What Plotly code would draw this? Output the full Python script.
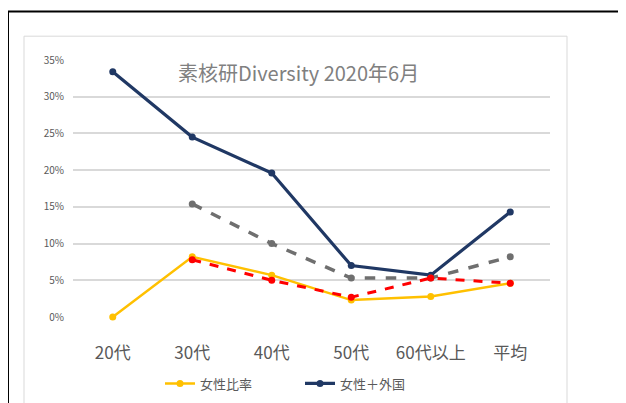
import plotly.graph_objects as go

categories = ["20代", "30代", "40代", "50代", "60代以上", "平均"]
female_ratio = [0.0, 8.2, 5.7, 2.3, 2.8, 4.6]
female_foreign = [33.4, 24.5, 19.6, 7.0, 5.7, 14.3]
gray_series = [None, 15.4, 10.0, 5.3, 5.3, 8.2]
red_series = [None, 7.8, 5.0, 2.7, 5.3, 4.6]
ytick_vals = [0, 5, 10, 15, 20, 25, 30, 35]
ytick_text = ["0%", "5%", "10%", "15%", "20%", "25%", "30%", "35%"]

W, H = 626, 403
OFF = 8  # page body margin offset
L, R, T, B = 73 - OFF, 550 - OFF, 60 - OFF, 319 - OFF

def px(x):
    return (x - OFF - L) / (R - L)

def py(y):
    return (B - (y - OFF)) / (B - T)

fig = go.Figure()
fig.add_trace(go.Scatter(x=categories, y=female_ratio, name="女性比率", mode="lines+markers",
                         line=dict(color="#ffc000", width=2.5), marker=dict(size=7, color="#ffc000"),
                         cliponaxis=False))
fig.add_trace(go.Scatter(x=categories, y=female_foreign, name="女性＋外国", mode="lines+markers",
                         line=dict(color="#203864", width=3.2), marker=dict(size=7, color="#203864"),
                         cliponaxis=False))
fig.add_trace(go.Scatter(x=categories, y=gray_series, name="gray", mode="lines+markers", showlegend=False,
                         line=dict(color="#6f6f6f", width=3.5, dash="dash"), marker=dict(size=7, color="#6f6f6f"),
                         cliponaxis=False))
fig.add_trace(go.Scatter(x=categories, y=red_series, name="red", mode="lines+markers", showlegend=False,
                         line=dict(color="#ff0000", width=3, dash="dash"), marker=dict(size=7, color="#ff0000"),
                         cliponaxis=False))

fig.update_layout(
    width=W, height=H,
    margin=dict(l=L, r=W - R, t=T, b=H - B),
    paper_bgcolor="white", plot_bgcolor="white",
    font=dict(family="Noto Sans CJK JP, Noto Sans, sans-serif", color="#595959"),
    xaxis=dict(showgrid=False, showline=False, zeroline=False, ticks="", range=[-0.5, 5.5],
               tickfont=dict(size=17, color="#595959"), ticklabelstandoff=24),
    yaxis=dict(range=[0, 35], tickvals=ytick_vals, ticktext=ytick_text, showgrid=True,
               gridcolor="#d9d9d9", gridwidth=1.5, zeroline=False, showline=False,
               tickfont=dict(size=10, color="#595959"), ticklabelstandoff=8),
    showlegend=True,
    legend=dict(orientation="h", x=px(160), y=py(386), xanchor="left", yanchor="middle",
                font=dict(size=13, color="#595959"), bgcolor="rgba(0,0,0,0)",
                itemwidth=30, entrywidth=95),
    shapes=[
        dict(type="rect", xref="paper", yref="paper", x0=px(8), x1=px(680), y0=py(11), y1=py(450),
             line=dict(color="black", width=2), fillcolor="rgba(0,0,0,0)", layer="below"),
        dict(type="rect", xref="paper", yref="paper", x0=px(24), x1=px(567), y0=py(36), y1=py(450),
             line=dict(color="#d9d9d9", width=1), fillcolor="rgba(0,0,0,0)", layer="below"),
    ],
    annotations=[
        dict(text="素核研Diversity 2020年6月", xref="paper", yref="paper", x=px(176), y=py(73),
             xanchor="left", yanchor="middle", showarrow=False,
             font=dict(size=20, color="#808080")),
    ],
)

fig.write_html("out.html")
